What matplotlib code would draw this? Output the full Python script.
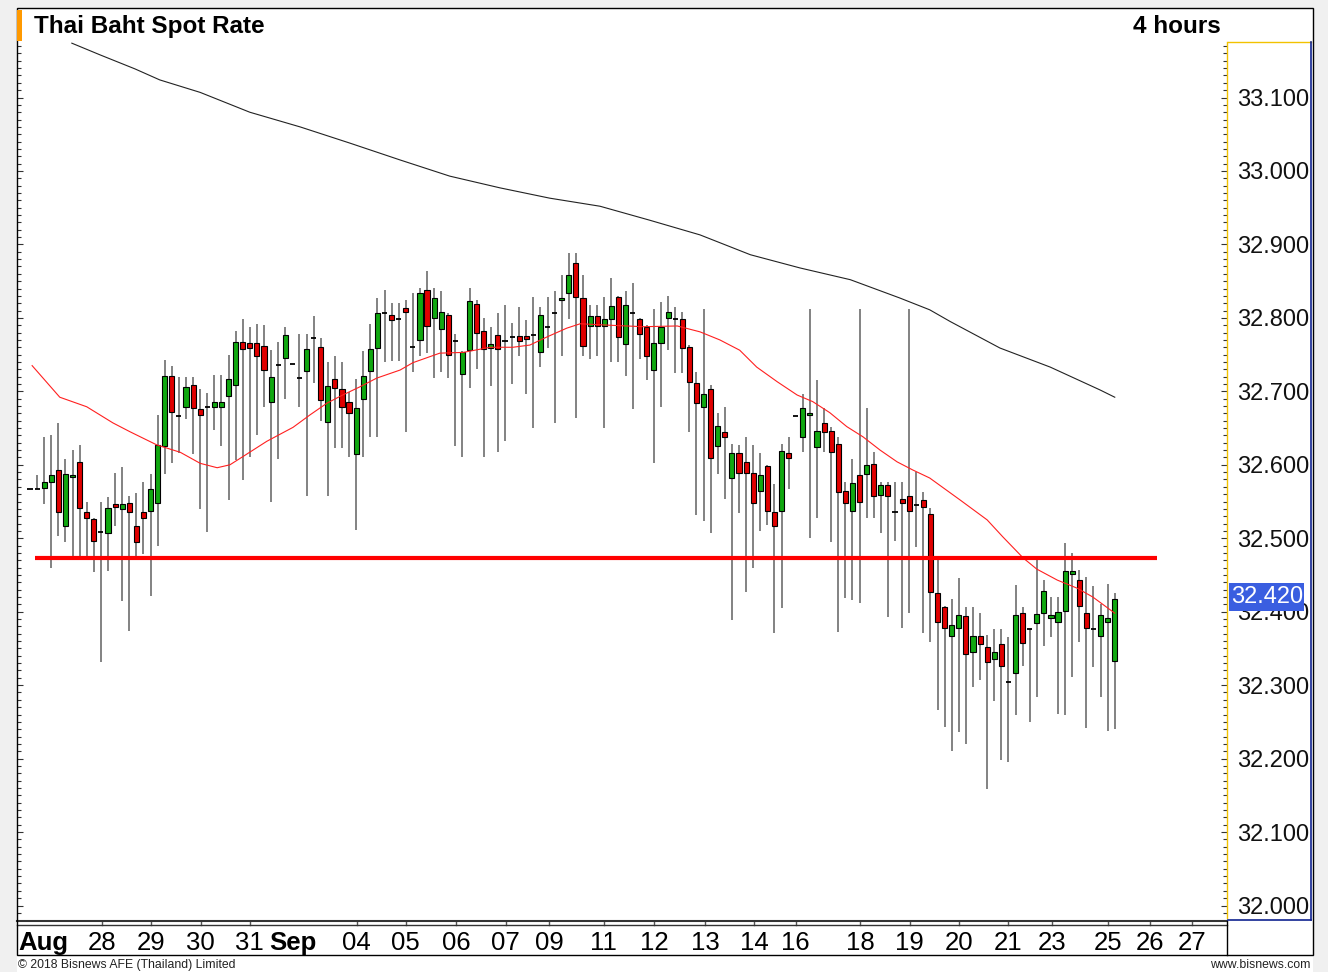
import numpy as np
import matplotlib
matplotlib.use("Agg")
import matplotlib.pyplot as plt
from matplotlib.lines import Line2D
from matplotlib.patches import Rectangle
from matplotlib.transforms import blended_transform_factory

W, H = 1328, 972

# 4-hour candles (price)
opens = [
    32.567, 32.567, 32.568, 32.577, 32.593, 32.517, 32.583, 32.604, 32.536, 32.526,
    32.509, 32.507, 32.547, 32.540, 32.548, 32.517, 32.536, 32.537, 32.548, 32.626,
    32.721, 32.667, 32.679, 32.709, 32.676, 32.679, 32.679, 32.679, 32.694, 32.709,
    32.767, 32.766, 32.766, 32.762, 32.686, 32.736, 32.745, 32.737, 32.718, 32.728,
    32.773, 32.761, 32.658, 32.717, 32.703, 32.686, 32.615, 32.690, 32.728, 32.759,
    32.807, 32.804, 32.798, 32.813, 32.761, 32.770, 32.838, 32.800, 32.785, 32.804,
    32.769, 32.724, 32.756, 32.819, 32.782, 32.759, 32.777, 32.769, 32.774, 32.775,
    32.775, 32.777, 32.753, 32.788, 32.807, 32.824, 32.834, 32.875, 32.827, 32.789,
    32.803, 32.789, 32.799, 32.828, 32.764, 32.807, 32.798, 32.788, 32.729, 32.766,
    32.800, 32.798, 32.798, 32.761, 32.711, 32.679, 32.703, 32.626, 32.644, 32.582,
    32.616, 32.604, 32.589, 32.565, 32.598, 32.536, 32.537, 32.616, 32.667, 32.638,
    32.668, 32.624, 32.657, 32.646, 32.628, 32.564, 32.537, 32.586, 32.587, 32.601,
    32.559, 32.572, 32.536, 32.553, 32.558, 32.545, 32.552, 32.533, 32.425, 32.406,
    32.367, 32.378, 32.394, 32.345, 32.367, 32.352, 32.336, 32.356, 32.304, 32.317,
    32.398, 32.376, 32.385, 32.398, 32.391, 32.386, 32.401, 32.451, 32.443, 32.398,
    32.376, 32.367, 32.386, 32.333,
]
highs = [
    32.567, 32.586, 32.638, 32.641, 32.657, 32.608, 32.620, 32.627, 32.549, 32.528,
    32.549, 32.556, 32.589, 32.597, 32.558, 32.562, 32.577, 32.587, 32.668, 32.742,
    32.735, 32.720, 32.720, 32.720, 32.703, 32.698, 32.722, 32.722, 32.750, 32.782,
    32.799, 32.788, 32.792, 32.790, 32.756, 32.767, 32.788, 32.737, 32.778, 32.778,
    32.803, 32.773, 32.740, 32.748, 32.740, 32.699, 32.717, 32.755, 32.792, 32.827,
    32.838, 32.820, 32.820, 32.824, 32.834, 32.841, 32.864, 32.841, 32.837, 32.806,
    32.778, 32.755, 32.841, 32.824, 32.800, 32.788, 32.807, 32.818, 32.793, 32.815,
    32.797, 32.828, 32.815, 32.828, 32.837, 32.858, 32.888, 32.888, 32.858, 32.818,
    32.818, 32.828, 32.854, 32.830, 32.837, 32.848, 32.800, 32.790, 32.812, 32.822,
    32.830, 32.815, 32.808, 32.763, 32.726, 32.812, 32.709, 32.670, 32.679, 32.628,
    32.627, 32.638, 32.627, 32.616, 32.600, 32.574, 32.628, 32.638, 32.667, 32.696,
    32.812, 32.716, 32.677, 32.651, 32.638, 32.577, 32.608, 32.812, 32.677, 32.617,
    32.577, 32.577, 32.577, 32.577, 32.812, 32.590, 32.563, 32.541, 32.470, 32.408,
    32.417, 32.446, 32.406, 32.406, 32.398, 32.368, 32.376, 32.376, 32.366, 32.436,
    32.406, 32.376, 32.476, 32.443, 32.420, 32.420, 32.494, 32.480, 32.457, 32.447,
    32.435, 32.410, 32.438, 32.425,
]
lows = [
    32.567, 32.567, 32.547, 32.460, 32.503, 32.495, 32.475, 32.475, 32.475, 32.454,
    32.332, 32.455, 32.517, 32.415, 32.374, 32.475, 32.479, 32.421, 32.490, 32.587,
    32.602, 32.616, 32.663, 32.615, 32.540, 32.509, 32.647, 32.626, 32.552, 32.607,
    32.579, 32.611, 32.641, 32.679, 32.549, 32.608, 32.690, 32.737, 32.679, 32.558,
    32.711, 32.660, 32.558, 32.623, 32.623, 32.611, 32.511, 32.611, 32.638, 32.638,
    32.740, 32.741, 32.741, 32.645, 32.727, 32.748, 32.752, 32.718, 32.726, 32.718,
    32.626, 32.611, 32.705, 32.730, 32.611, 32.707, 32.618, 32.633, 32.710, 32.748,
    32.696, 32.650, 32.733, 32.759, 32.657, 32.748, 32.798, 32.664, 32.748, 32.744,
    32.748, 32.650, 32.740, 32.740, 32.721, 32.676, 32.744, 32.716, 32.602, 32.679,
    32.756, 32.725, 32.725, 32.645, 32.532, 32.523, 32.507, 32.587, 32.553, 32.389,
    32.534, 32.427, 32.460, 32.510, 32.518, 32.371, 32.405, 32.567, 32.667, 32.617,
    32.500, 32.528, 32.617, 32.495, 32.372, 32.419, 32.416, 32.412, 32.528, 32.528,
    32.507, 32.393, 32.496, 32.378, 32.398, 32.488, 32.371, 32.359, 32.266, 32.243,
    32.210, 32.236, 32.220, 32.298, 32.307, 32.159, 32.279, 32.198, 32.195, 32.259,
    32.326, 32.250, 32.284, 32.353, 32.366, 32.261, 32.259, 32.311, 32.359, 32.241,
    32.325, 32.284, 32.237, 32.240,
]
closes = [
    32.567, 32.567, 32.577, 32.586, 32.536, 32.587, 32.586, 32.541, 32.528, 32.496,
    32.509, 32.541, 32.543, 32.547, 32.536, 32.495, 32.528, 32.567, 32.627, 32.721,
    32.672, 32.667, 32.706, 32.677, 32.668, 32.679, 32.686, 32.686, 32.717, 32.767,
    32.758, 32.759, 32.748, 32.729, 32.720, 32.736, 32.777, 32.737, 32.718, 32.758,
    32.773, 32.688, 32.707, 32.705, 32.679, 32.670, 32.677, 32.721, 32.758, 32.807,
    32.807, 32.797, 32.798, 32.808, 32.761, 32.834, 32.789, 32.827, 32.808, 32.750,
    32.769, 32.753, 32.823, 32.779, 32.758, 32.764, 32.758, 32.769, 32.774, 32.769,
    32.771, 32.777, 32.804, 32.788, 32.807, 32.827, 32.858, 32.828, 32.762, 32.803,
    32.789, 32.799, 32.816, 32.774, 32.818, 32.807, 32.778, 32.748, 32.766, 32.788,
    32.808, 32.798, 32.759, 32.713, 32.684, 32.696, 32.609, 32.653, 32.638, 32.616,
    32.589, 32.589, 32.548, 32.586, 32.537, 32.517, 32.619, 32.609, 32.667, 32.677,
    32.670, 32.646, 32.645, 32.617, 32.563, 32.548, 32.575, 32.549, 32.600, 32.558,
    32.572, 32.558, 32.536, 32.548, 32.537, 32.545, 32.543, 32.427, 32.386, 32.378,
    32.382, 32.396, 32.342, 32.367, 32.356, 32.332, 32.345, 32.326, 32.304, 32.396,
    32.357, 32.376, 32.397, 32.428, 32.396, 32.400, 32.455, 32.455, 32.408, 32.378,
    32.376, 32.396, 32.391, 32.417,
]

# moving averages read at sample candles (candle index, price)
ma_fast_idx = [0.3, 4.2, 8.0, 11.7, 14.1, 17.9, 21.2, 24.0, 26.4, 28.2, 30.0, 33.4,
               37.1, 39.5, 41.9, 44.1, 46.5, 48.9, 52.2, 54.0, 57.8, 61.1, 64.9,
               68.1, 70.5, 72.9, 75.7, 77.6, 81.8, 86.5, 91.3, 94.5, 97.3, 100.1,
               102.5, 105.4, 108.2, 110.4, 112.8, 115.2, 117.5, 119.9, 122.3, 124.5,
               126.9, 131.2, 135.0, 137.2, 140.1, 142.0, 144.9, 147.7, 149.9, 153.0]
ma_fast_val = [32.735, 32.692, 32.679, 32.657, 32.645, 32.627, 32.617, 32.602, 32.596,
               32.600, 32.611, 32.632, 32.651, 32.668, 32.684, 32.695, 32.706, 32.718,
               32.729, 32.739, 32.752, 32.753, 32.760, 32.760, 32.763, 32.774, 32.786,
               32.792, 32.790, 32.788, 32.789, 32.781, 32.770, 32.756, 32.733, 32.713,
               32.695, 32.686, 32.671, 32.652, 32.638, 32.620, 32.604, 32.593, 32.582,
               32.552, 32.525, 32.502, 32.473, 32.458, 32.443, 32.432, 32.420, 32.398]

ma_slow_idx = [5.9, 9.9, 14.8, 18.3, 24.0, 31.0, 38.1, 45.1, 52.2, 59.2, 66.3, 73.3,
               80.4, 87.4, 94.5, 101.6, 108.6, 115.7, 122.7, 126.9, 129.8, 136.8,
               143.9, 150.9, 153.0]
ma_slow_val = [33.174, 33.158, 33.139, 33.124, 33.107, 33.080, 33.060, 33.038, 33.015,
               32.993, 32.977, 32.963, 32.952, 32.933, 32.913, 32.886, 32.868, 32.852,
               32.827, 32.811, 32.795, 32.759, 32.733, 32.702, 32.692]

support_level = 32.473
support_span = (0.7, 159.0)
last_price = 32.420

date_pos = [-1.7, 10.15, 17.06, 24.1, 31.0, 37.1, 46.1, 53.0, 60.1, 67.1, 73.2, 80.9,
            88.0, 95.2, 102.1, 108.0, 117.1, 124.1, 131.0, 137.9, 144.1, 152.0,
            158.0, 163.9]
date_labels = ["Aug", "28", "29", "30", "31", "Sep", "04", "05", "06", "07", "09", "11",
               "12", "13", "14", "16", "18", "19", "20", "21", "23", "25", "26", "27"]

GREEN = "#10a810"
RED = "#e00000"
NARROW = ["Liberation Sans Narrow", "Liberation Sans", "DejaVu Sans"]
SANS = ["Liberation Sans", "DejaVu Sans"]


def fx(x):
    return x / W


def fy(y):
    return 1 - y / H


def plot_baht():
    fig = plt.figure(figsize=(W / 100, H / 100), dpi=100, facecolor="#f0f0f0")
    fig.add_artist(Rectangle((fx(17), 0), fx(1313) - fx(17), fy(8), transform=fig.transFigure,
                             facecolor="white", edgecolor="none", zorder=0))

    ax = fig.add_axes([fx(17), fy(918), fx(1227) - fx(17), fy(42) - fy(918)])
    ax.set_facecolor("white")
    ax.set_xlim(-1.834, 168.83)
    ax.set_ylim(31.983, 33.1756)

    x = np.arange(len(opens))
    o = np.array(opens)
    c = np.array(closes)

    # wicks
    ax.vlines(x, lows, highs, color="#606060", lw=1.1, zorder=2)

    # bodies
    body = np.abs(c - o)
    is_doji = body < 0.0015
    up = (c >= o) & ~is_doji
    dn = (c < o) & ~is_doji
    for mask, col in ((up, GREEN), (dn, RED)):
        ax.bar(x[mask], np.maximum(body[mask], 0.003), bottom=np.minimum(o, c)[mask],
               width=0.72, color=col, edgecolor="black", linewidth=0.8, zorder=3)
    ax.hlines(c[is_doji], x[is_doji] - 0.36, x[is_doji] + 0.36, color="black", lw=1.3, zorder=3)

    # moving averages and support line
    ax.plot(ma_slow_idx, ma_slow_val, color="#222222", lw=0.8, zorder=4)
    ax.plot(ma_fast_idx, ma_fast_val, color="#ff2020", lw=0.8, zorder=4)
    ax.hlines(support_level, *support_span, color="#ff0000", lw=3.0, zorder=5)

    # axes styling
    for side in ("left", "top", "bottom"):
        ax.spines[side].set_visible(False)
    ax.spines["right"].set_color("#f2c200")
    ax.spines["right"].set_linewidth(1.0)

    ax.set_xticks([])
    ax.set_yticks(np.arange(32.0, 33.15, 0.1))
    ax.set_yticks(np.arange(31.99, 33.175, 0.01), minor=True)
    ax.set_yticklabels([f"{v:.3f}" for v in np.arange(32.0, 33.15, 0.1)])
    ax.tick_params(axis="y", which="both", direction="in", left=True, right=True,
                   labelleft=False, labelright=True, color="#333333", width=0.8)
    ax.tick_params(axis="y", which="major", length=4.5, pad=7.2, labelsize=17)
    ax.tick_params(axis="y", which="minor", length=2.6)
    for lab in ax.get_yticklabels():
        lab.set_family(SANS)
        lab.set_color("#111111")

    # date labels under the chart
    tr = blended_transform_factory(ax.transData, fig.transFigure)
    for pos, lab in zip(date_pos, date_labels):
        if lab in ("Aug", "Sep"):
            ax.text(pos, fy(950), lab, transform=tr, ha="left" if lab == "Aug" else "center",
                    va="baseline", fontsize=18.5, fontweight="bold", family=NARROW, clip_on=False)
        else:
            ax.text(pos, fy(950), lab, transform=tr, ha="center", va="baseline",
                    fontsize=18.5, family=NARROW, clip_on=False)
            ax.add_line(Line2D([pos, pos], [fy(921), fy(925)], transform=tr, color="#555555",
                               lw=1.0, clip_on=False))

    # last price tag
    trp = blended_transform_factory(fig.transFigure, ax.transData)
    ax.add_patch(Rectangle((fx(1229), last_price - 0.019), fx(1304) - fx(1229), 0.038,
                           transform=trp, facecolor="#3a5ee0", edgecolor="none",
                           clip_on=False, zorder=10))
    ax.text(fx(1231), last_price, f"{last_price:.3f}", transform=trp, ha="left",
            va="center", fontsize=17, color="white", family=SANS, clip_on=False, zorder=11)

    # frame lines
    lines = [
        ([17, 1227], [921, 921], "#333333", 1.5),
        ([17, 1227], [925, 925], "#333333", 1.0),
        ([1227, 1227], [921, 955], "black", 1.0),
        ([1228, 1311], [42, 42], "#f2c200", 1.0),
        ([1311, 1311], [42, 920], "#0f2290", 1.2),
        ([1228, 1311], [920, 920], "#0f2290", 1.2),
    ]
    for xs, ys, col, lw in lines:
        fig.add_artist(Line2D([fx(v) for v in xs], [fy(v) for v in ys],
                              transform=fig.transFigure, color=col, lw=lw, zorder=6))
    fig.add_artist(Rectangle((fx(16.5), fy(955)), fx(1312.5) - fx(16.5), fy(8.5) - fy(955),
                             transform=fig.transFigure, facecolor="none",
                             edgecolor="black", lw=1.0, zorder=7))
    fig.add_artist(Rectangle((fx(17), fy(41)), fx(22) - fx(17), fy(10) - fy(41),
                             transform=fig.transFigure, facecolor="#ff9900",
                             edgecolor="none", zorder=7))

    # titles and footer
    fig.text(fx(34), fy(33), "Thai Baht Spot Rate", fontsize=17.5, fontweight="bold",
             family=SANS, va="baseline", ha="left")
    fig.text(fx(1221), fy(33), "4 hours", fontsize=17.5, fontweight="bold",
             family=SANS, va="baseline", ha="right")
    fig.text(fx(18), fy(968), "© 2018 Bisnews AFE (Thailand) Limited", fontsize=8.8,
             family=NARROW, va="baseline", ha="left", color="#222222")
    fig.text(fx(1311), fy(968), "www.bisnews.com", fontsize=8.8,
             family=NARROW, va="baseline", ha="right", color="#222222")

    fig.savefig("out.png", dpi=100, facecolor=fig.get_facecolor())
    plt.close(fig)


if __name__ == "__main__":
    plot_baht()
